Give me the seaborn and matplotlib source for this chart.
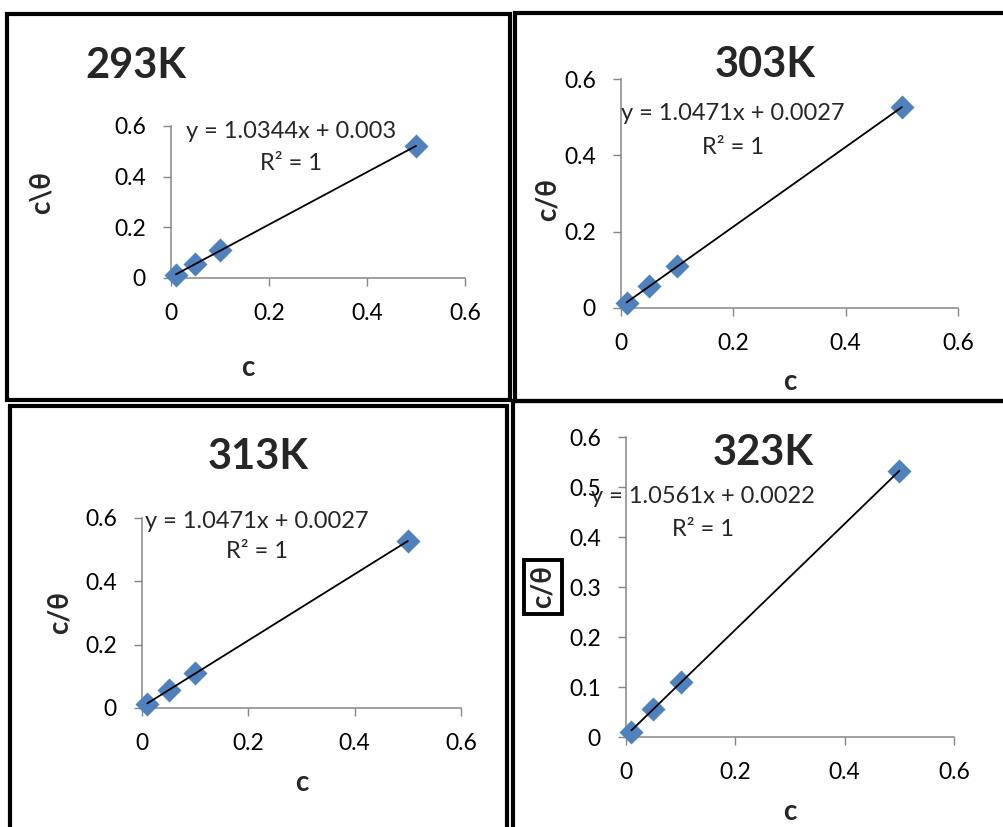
import matplotlib
matplotlib.use("Agg")
import matplotlib.pyplot as plt
import seaborn as sns
import pandas as pd
from matplotlib.patches import Rectangle

# concentrations and c/theta values
conc = [0.01, 0.05, 0.1, 0.5]
y_293 = [0.012, 0.057, 0.109, 0.521]
y_303 = [0.013, 0.057, 0.110, 0.526]
y_313 = [0.012, 0.058, 0.110, 0.527]
y_323 = [0.011, 0.057, 0.110, 0.532]

titles = ["293K", "303K", "313K", "323K"]
equations = ["y = 1.0344x + 0.003", "y = 1.0471x + 0.0027",
             "y = 1.0471x + 0.0027", "y = 1.0561x + 0.0022"]
ylabels = ["c\\θ", "c/θ", "c/θ", "c/θ"]
xticks = [0, 0.2, 0.4, 0.6]
xtick_labels = ["0", "0.2", "0.4", "0.6"]
yticks_small = [0, 0.2, 0.4, 0.6]
ytick_small_labels = ["0", "0.2", "0.4", "0.6"]
yticks_fine = [0, 0.1, 0.2, 0.3, 0.4, 0.5, 0.6]
ytick_fine_labels = ["0", "0.1", "0.2", "0.3", "0.4", "0.5", "0.6"]

sns.set_theme(style="ticks")
plt.rcParams["font.family"] = ["Lato", "DejaVu Sans"]

W, H = 1004, 827
fig = plt.figure(figsize=(W / 100, H / 100), dpi=100)
fig.patch.set_facecolor("white")


def px(x, y):
    return x / W, 1 - y / H


def box(x0, y0, x1, y1):
    return [x0 / W, 1 - y1 / H, (x1 - x0) / W, (y1 - y0) / H]


# layout per panel (pixels): axes box, title, equation, R2, ylabel, xlabel
panels = [
    dict(ax=(171, 126, 465, 278), title=(85, 66, "left"), eq=(291, 132), r2=(291, 164),
         yl=(42, 193), xl=(248, 368), y=y_293, fine=False),
    dict(ax=(621, 79, 958, 308), title=(765, 65, "center"), eq=(733, 114), r2=(733, 147),
         yl=(548, 200), xl=(790, 382), y=y_303, fine=False),
    dict(ax=(142, 518, 461, 708), title=(258, 457, "center"), eq=(257, 521), r2=(257, 552),
         yl=(60, 613), xl=(302, 783), y=y_313, fine=False),
    dict(ax=(626, 437, 954, 737), title=(763, 453, "center"), eq=(703, 497), r2=(703, 530),
         yl=(543, 587), xl=(790, 812), y=y_323, fine=True),
]

for i, p in enumerate(panels):
    ax = fig.add_axes(box(*p["ax"]))
    df = pd.DataFrame({"c": conc, "cth": p["y"]})
    sns.regplot(data=df, x="c", y="cth", ax=ax, ci=None, truncate=True,
                marker="D", color="#4F81BD",
                scatter_kws={"s": 150, "alpha": 1, "linewidths": 0,
                             "clip_on": False, "zorder": 3},
                line_kws={"color": "black", "lw": 1.3, "zorder": 4})
    ax.set_xlim(0, 0.6)
    ax.set_ylim(0, 0.6)
    ax.set_xticks(xticks, xtick_labels)
    if p["fine"]:
        ax.set_yticks(yticks_fine, ytick_fine_labels)
    else:
        ax.set_yticks(yticks_small, ytick_small_labels)
    ax.set_xlabel("")
    ax.set_ylabel("")
    ax.patch.set_alpha(0)
    for s in ["top", "right"]:
        ax.spines[s].set_visible(False)
    for s in ["left", "bottom"]:
        ax.spines[s].set_color("#868686")
        ax.spines[s].set_linewidth(1.1)
    ax.tick_params(axis="both", direction="out", length=6, width=1.0,
                   color="#868686", labelsize=16.5, labelcolor="black", pad=12)

    tx, ty, tha = p["title"]
    fig.text(*px(tx, ty), titles[i], fontsize=30, fontweight="bold",
             ha=tha, va="center")
    fig.text(*px(*p["eq"]), equations[i], fontsize=17, ha="center", va="center")
    fig.text(*px(*p["r2"]), "R² = 1", fontsize=17, ha="center", va="center")
    if i == 3:
        fig.text(*px(*p["yl"]), ylabels[i], fontsize=20, fontweight="bold",
                 rotation=90, ha="center", va="center",
                 bbox=dict(boxstyle="square,pad=0.2", fc="white", ec="black", lw=2.8))
    else:
        fig.text(*px(*p["yl"]), ylabels[i], fontsize=20, fontweight="bold",
                 rotation=90, ha="center", va="center")
    fig.text(*px(*p["xl"]), "c", fontsize=20, fontweight="bold",
             ha="center", va="center")

# panel frames
frames = [(7.5, 13.5, 510.5, 399.5), (515.5, 13.5, 1012, 401.5),
          (10, 406, 507.5, 840), (513.5, 401, 1012, 840)]
for x0, y0, x1, y1 in frames:
    fig.patches.append(Rectangle((x0 / W, 1 - y1 / H), (x1 - x0) / W, (y1 - y0) / H,
                                 transform=fig.transFigure, fill=False,
                                 ec="black", lw=3.0, zorder=10))

fig.savefig("out.png", dpi=100)
plt.close(fig)
